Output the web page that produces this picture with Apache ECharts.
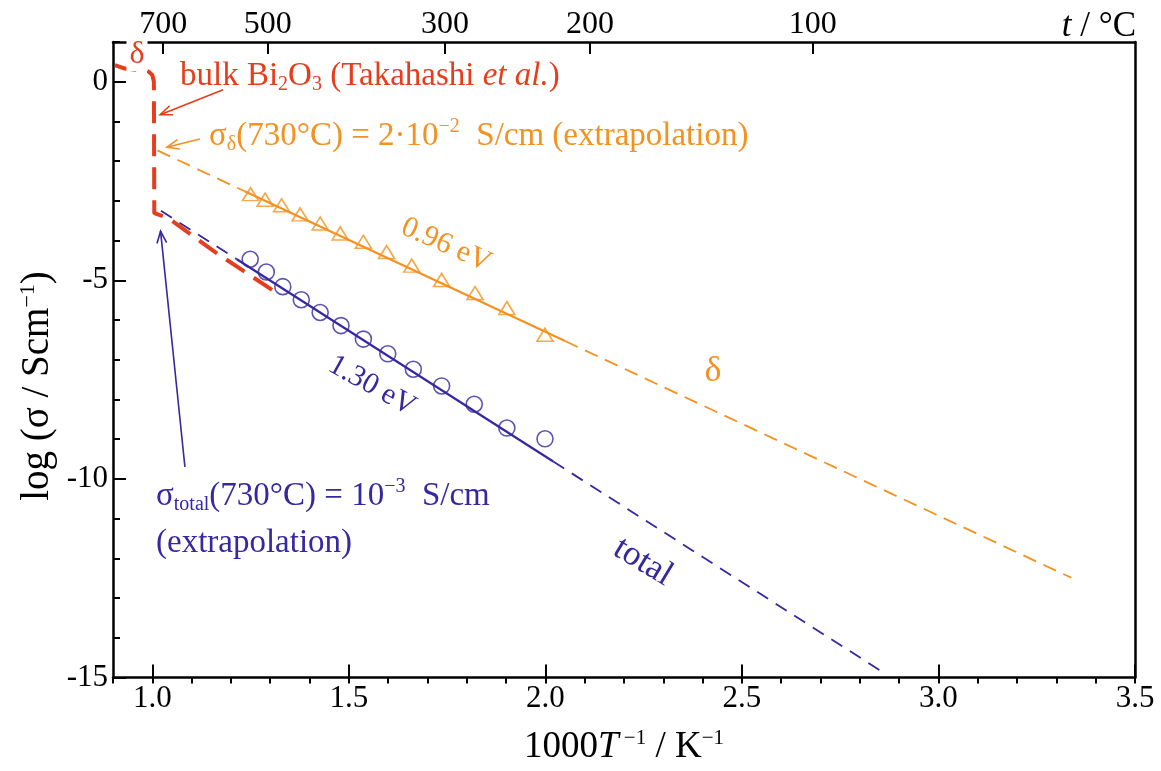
<!DOCTYPE html>
<html>
<head>
<meta charset="utf-8">
<script src="https://cdn.jsdelivr.net/npm/echarts@6/dist/echarts.min.js"></script>
<style>
  html, body { margin: 0; padding: 0; background: #ffffff; }
  #chart { width: 1161px; height: 771px; }
</style>
</head>
<body>
<div id="chart"></div>
<script>
// ---- data: inverse temperature (1000/T, K^-1) and log conductivity (S/cm) ----
const deltaInvT  = [1.250, 1.287, 1.329, 1.376, 1.427, 1.478, 1.537, 1.596, 1.660, 1.736, 1.821, 1.902, 1.999];
const deltaLogS  = [-2.83, -2.97, -3.11, -3.34, -3.57, -3.82, -4.03, -4.29, -4.63, -4.99, -5.32, -5.70, -6.37];
const totalInvT  = [1.249, 1.290, 1.332, 1.379, 1.427, 1.480, 1.537, 1.599, 1.664, 1.736, 1.819, 1.902, 1.999];
const totalLogS  = [-4.47, -4.79, -5.16, -5.49, -5.81, -6.14, -6.48, -6.85, -7.24, -7.66, -8.12, -8.72, -8.99];

// Arrhenius fit lines: end points and the fitted (solid) range
const deltaFitX   = [1.013, 3.338];
const deltaFitY   = [-1.73, -12.49];
const deltaSolidX = [1.235, 2.05];
const totalFitX   = [1.022, 2.856];
const totalFitY   = [-3.25, -14.85];
const totalSolidX = [1.215, 2.02];

// bulk Bi2O3 literature curve
const bulkInvT = [0.905, 0.930, 0.970, 0.990, 1.000, 1.004, 1.005, 1.040, 1.160, 1.312];
const bulkLogS = [0.42, 0.33, 0.29, 0.26, 0.17, 0.00, -3.31, -3.43, -4.29, -5.29];

// axis ticks
const bottomTicks = [1.0, 1.5, 2.0, 2.5, 3.0, 3.5];
const leftTicks   = [0, -5, -10, -15];
const topTempC    = [700, 500, 300, 200, 100];

// annotation arrows: [tailX, tailY, tipX, tipY]
const arrowBulk  = [1.180, -0.20, 1.020, -0.83];
const arrowDelta = [1.121, -1.44, 1.037, -1.65];
const arrowTotal = [1.083, -9.70, 1.021, -3.76];

const ORANGE = '#f39121';
const BLUE   = '#3528a0';
const RED    = '#e63d1d';
const FONT   = '"Liberation Serif", "Times New Roman", serif';
const ANN    = 33;   // annotation font size
const ANN_S  = 20;   // sub/superscript size in annotations

const topTickPos = topTempC.map(t => 1000 / (t + 273.15));

function fitLine(fx, fy, x) {
  return fy[0] + (fy[1] - fy[0]) * (x - fx[0]) / (fx[1] - fx[0]);
}
function fitPieces(fx, fy, sx) {
  const seg = (a, b) => [[a, fitLine(fx, fy, a)], [b, fitLine(fx, fy, b)]];
  return {
    dashA: seg(fx[0], sx[0]),
    solid: seg(sx[0], sx[1]),
    dashB: seg(sx[1], fx[1])
  };
}
const deltaFit = fitPieces(deltaFitX, deltaFitY, deltaSolidX);
const totalFit = fitPieces(totalFitX, totalFitY, totalSolidX);

function zip(a, b) { return a.map((v, i) => [v, b[i]]); }

function arrowSeries(arrow, color) {
  return {
    type: 'custom',
    coordinateSystem: 'cartesian2d',
    xAxisIndex: 0, yAxisIndex: 0,
    clip: false,
    z: 5,
    silent: true,
    encode: { x: [0, 2], y: [1, 3] },
    data: [arrow],
    renderItem: function (params, api) {
      const p1 = api.coord([api.value(0), api.value(1)]);
      const p2 = api.coord([api.value(2), api.value(3)]);
      const ang = Math.atan2(p2[1] - p1[1], p2[0] - p1[0]);
      const L = 13, spread = 0.38;
      const h1 = [p2[0] - L * Math.cos(ang - spread), p2[1] - L * Math.sin(ang - spread)];
      const h2 = [p2[0] - L * Math.cos(ang + spread), p2[1] - L * Math.sin(ang + spread)];
      const st = { stroke: color, lineWidth: 1.6, fill: null };
      return {
        type: 'group',
        children: [
          { type: 'line', shape: { x1: p1[0], y1: p1[1], x2: p2[0], y2: p2[1] }, style: st },
          { type: 'polyline', shape: { points: [h1, p2, h2] }, style: st }
        ]
      };
    }
  };
}

function lineSeries(data, color, width, dash, z) {
  return {
    type: 'line', data: data, xAxisIndex: 0, yAxisIndex: 0,
    symbol: 'none', silent: true, z: z || 2,
    lineStyle: { color: color, width: width, type: dash || 'solid', cap: 'butt' }
  };
}

function richAnn(color) {
  return {
    n: { fontFamily: FONT, fontSize: ANN, fill: color, lineHeight: 38 },
    i: { fontFamily: FONT, fontSize: ANN, fill: color, fontStyle: 'italic', lineHeight: 38 },
    b: { fontFamily: FONT, fontSize: ANN_S, fill: color, verticalAlign: 'bottom', lineHeight: ANN_S },
    p: { fontFamily: FONT, fontSize: ANN_S, fill: color, verticalAlign: 'top', lineHeight: ANN_S }
  };
}

const chart = echarts.init(document.getElementById('chart'), null, { renderer: 'canvas' });

const option = {
  animation: false,
  backgroundColor: '#ffffff',
  grid: { left: 113, right: 26, top: 42, bottom: 91, containLabel: false },
  xAxis: [
    {
      type: 'value', position: 'bottom', min: 0.9, max: 3.5,
      axisLine: { show: true, onZero: false, lineStyle: { color: '#000', width: 2.5 } },
      axisTick: { show: true, inside: true, length: 13, customValues: bottomTicks, lineStyle: { color: '#000', width: 2 } },
      axisLabel: {
        show: true, customValues: bottomTicks, margin: 6,
        formatter: v => v.toFixed(1),
        fontFamily: FONT, fontSize: 31, color: '#000'
      },
      splitLine: { show: false },
      name: '{n|1000}{i|T}{s| −1}{n| / K}{s|−1}',
      nameLocation: 'middle', nameGap: 50,
      nameTextStyle: {
        rich: {
          n: { fontFamily: FONT, fontSize: 37, color: '#000', lineHeight: 40 },
          i: { fontFamily: FONT, fontSize: 37, color: '#000', fontStyle: 'italic', lineHeight: 40 },
          s: { fontFamily: FONT, fontSize: 21, color: '#000', verticalAlign: 'top', lineHeight: 21 }
        }
      }
    },
    {
      type: 'value', position: 'bottom', min: 0.9, max: 3.5, interval: 0.1,
      axisLine: { show: false, onZero: false },
      axisTick: { show: true, inside: false, length: 6, lineStyle: { color: '#000', width: 2 } },
      axisLabel: { show: false },
      splitLine: { show: false }
    },
    {
      type: 'value', position: 'top', min: 0.9, max: 3.5,
      axisLine: { show: true, onZero: false, lineStyle: { color: '#000', width: 2.5 } },
      axisTick: { show: true, inside: true, length: 12, customValues: topTickPos, lineStyle: { color: '#000', width: 2 } },
      axisLabel: {
        show: true, customValues: topTickPos, margin: 1,
        formatter: v => String(Math.round(1000 / v - 273.15)),
        fontFamily: FONT, fontSize: 32, color: '#000'
      },
      splitLine: { show: false }
    }
  ],
  yAxis: [
    {
      type: 'value', position: 'left', min: -15, max: 1,
      axisLine: { show: true, onZero: false, lineStyle: { color: '#000', width: 2.5 } },
      axisTick: { show: true, inside: true, length: 13, customValues: leftTicks, lineStyle: { color: '#000', width: 2 } },
      axisLabel: {
        show: true, customValues: leftTicks, margin: 5,
        formatter: v => String(v),
        fontFamily: FONT, fontSize: 31, color: '#000'
      },
      splitLine: { show: false }
    },
    {
      type: 'value', position: 'left', min: -15, max: 1, interval: 1,
      axisLine: { show: false, onZero: false },
      axisTick: { show: true, inside: true, length: 7, lineStyle: { color: '#000', width: 2 } },
      axisLabel: { show: false },
      splitLine: { show: false }
    },
    {
      type: 'value', position: 'right', min: -15, max: 1,
      axisLine: { show: true, onZero: false, lineStyle: { color: '#000', width: 2.5 } },
      axisTick: { show: false },
      axisLabel: { show: false },
      splitLine: { show: false }
    }
  ],
  series: [
    // delta-phase fit
    lineSeries(deltaFit.dashA, ORANGE, 1.8, [14, 8]),
    lineSeries(deltaFit.solid, ORANGE, 2.2),
    lineSeries(deltaFit.dashB, ORANGE, 1.8, [14, 8]),
    // total fit
    lineSeries(totalFit.dashA, BLUE, 1.8, [13, 9]),
    lineSeries(totalFit.solid, BLUE, 2.2),
    lineSeries(totalFit.dashB, BLUE, 1.8, [13, 9]),
    {
      name: 'δ', type: 'scatter', data: zip(deltaInvT, deltaLogS),
      xAxisIndex: 0, yAxisIndex: 0, z: 3,
      symbol: 'triangle', symbolSize: [16, 13],
      itemStyle: { color: 'rgba(255,255,255,0)', borderColor: ORANGE, borderWidth: 1.6 }
    },
    {
      name: 'total', type: 'scatter', data: zip(totalInvT, totalLogS),
      xAxisIndex: 0, yAxisIndex: 0, z: 3,
      symbol: 'circle', symbolSize: 16,
      itemStyle: { color: 'rgba(255,255,255,0)', borderColor: BLUE, borderWidth: 1.6 }
    },
    // bulk Bi2O3 curve
    lineSeries(zip(bulkInvT, bulkLogS), RED, 4, [22, 11], 4),
    arrowSeries(arrowBulk, RED),
    arrowSeries(arrowDelta, ORANGE),
    arrowSeries(arrowTotal, BLUE)
  ],
  graphic: [
    // left axis title
    {
      type: 'text', x: 38, y: 386, z: 10, rotation: Math.PI / 2,
      style: {
        text: '{n|log (σ / Scm}{s|−1}{n|)}',
        align: 'center', verticalAlign: 'middle',
        rich: {
          n: { fontFamily: FONT, fontSize: 39, fill: '#000', lineHeight: 42 },
          s: { fontFamily: FONT, fontSize: 22, fill: '#000', verticalAlign: 'top', lineHeight: 22 }
        }
      }
    },
    // top axis title
    {
      type: 'text', x: 1136, y: 27, z: 10,
      style: {
        text: '{i|t}{n| / °C}',
        align: 'right', verticalAlign: 'middle',
        rich: {
          i: { fontFamily: FONT, fontSize: 35, fontStyle: 'italic', fill: '#000' },
          n: { fontFamily: FONT, fontSize: 35, fill: '#000' }
        }
      }
    },
    {
      type: 'text', x: 137, y: 55, z: 10,
      style: {
        text: 'δ', fontFamily: FONT, fontSize: 32, fill: RED, align: 'center', verticalAlign: 'middle',
        backgroundColor: '#ffffff', padding: [0, 3, 0, 3]
      }
    },
    {
      type: 'text', x: 180, y: 76, z: 10,
      style: {
        text: '{n|bulk Bi}{b|2}{n|O}{b|3}{n| (Takahashi }{i|et al.}{n|)}',
        verticalAlign: 'middle',
        rich: richAnn(RED)
      }
    },
    {
      type: 'text', x: 209, y: 136, z: 10,
      style: {
        text: '{n|σ}{b|δ}{n|(730°C) = 2·10}{p|−2}{n|  S/cm (extrapolation)}',
        verticalAlign: 'middle',
        rich: richAnn(ORANGE)
      }
    },
    {
      type: 'text', x: 156, y: 496, z: 10,
      style: {
        text: '{n|σ}{b|total}{n|(730°C) = 10}{p|−3}{n|  S/cm}',
        verticalAlign: 'middle',
        rich: richAnn(BLUE)
      }
    },
    {
      type: 'text', x: 156, y: 543, z: 10,
      style: { text: '(extrapolation)', fontFamily: FONT, fontSize: ANN, fill: BLUE, verticalAlign: 'middle' }
    },
    {
      type: 'text', x: 446, y: 245, z: 10, rotation: -24 * Math.PI / 180,
      style: { text: '0.96 eV', fontFamily: FONT, fontSize: 30, fill: ORANGE, align: 'center', verticalAlign: 'middle' }
    },
    {
      type: 'text', x: 372, y: 386, z: 10, rotation: -29 * Math.PI / 180,
      style: { text: '1.30 eV', fontFamily: FONT, fontSize: 30, fill: BLUE, align: 'center', verticalAlign: 'middle' }
    },
    {
      type: 'text', x: 643, y: 562, z: 10, rotation: -31 * Math.PI / 180,
      style: { text: 'total', fontFamily: FONT, fontSize: 35, fill: BLUE, align: 'center', verticalAlign: 'middle' }
    },
    {
      type: 'text', x: 713, y: 372, z: 10,
      style: { text: 'δ', fontFamily: FONT, fontSize: 36, fill: ORANGE, align: 'center', verticalAlign: 'middle' }
    }
  ]
};

chart.setOption(option);
</script>
</body>
</html>
